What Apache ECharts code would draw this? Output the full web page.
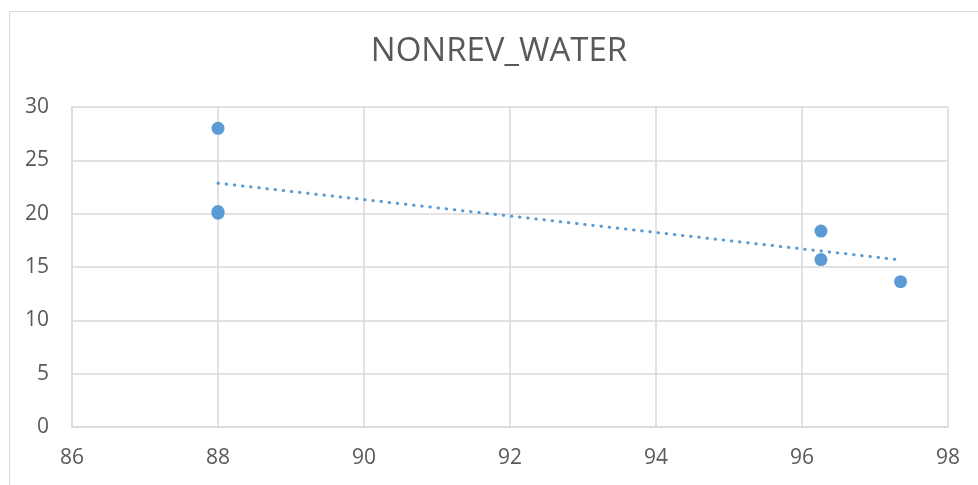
<!DOCTYPE html>
<html>
<head>
<meta charset="utf-8">
<script src="https://cdn.jsdelivr.net/npm/echarts@6/dist/echarts.min.js"></script>
<style>html,body{margin:0;padding:0;background:#fff;}#c{width:978px;height:485px;}</style>
</head>
<body>
<div id="c"></div>
<script>
var titleText = 'NONREV_WATER';
var xValues = [88, 88, 88, 96.26, 96.26, 97.35];
var yValues = [28.0, 20.2, 20.05, 18.37, 15.7, 13.62];
var trendX = [88, 97.35];
var trendY = [22.86, 15.66];
var xTicks = [86, 98, 2];
var yTicks = [0, 30, 5];

var pts = xValues.map(function (x, i) { return [x, yValues[i]]; });
var trend = trendX.map(function (x, i) { return [x, trendY[i]]; });
var font = '"Open Sans", "Noto Sans", sans-serif';

var chart = echarts.init(document.getElementById('c'), null, {renderer: 'canvas'});
chart.setOption({
  animation: false,
  backgroundColor: '#ffffff',
  graphic: [{
    type: 'rect', left: 7, top: 9, silent: true,
    shape: {width: 1100, height: 600},
    style: {fill: 'none', stroke: '#d9d9d9', lineWidth: 1}
  }, {
    type: 'text', x: 499, y: 52, silent: true,
    style: {
      text: titleText, fontFamily: font, fontSize: 33, fill: '#595959',
      align: 'center', verticalAlign: 'middle'
    }
  }],
  grid: {left: 72, right: 30, top: 107, bottom: 58, containLabel: false},
  xAxis: {
    type: 'value', min: xTicks[0], max: xTicks[1], interval: xTicks[2],
    axisLine: {show: true, lineStyle: {color: '#d9d9d9', width: 1.5}},
    axisTick: {show: false},
    splitLine: {show: true, lineStyle: {color: '#d9d9d9', width: 1.5}},
    axisLabel: {fontFamily: font, fontSize: 21, color: '#595959', margin: 21}
  },
  yAxis: {
    type: 'value', min: yTicks[0], max: yTicks[1], interval: yTicks[2],
    axisLine: {show: true, lineStyle: {color: '#d9d9d9', width: 1.5}},
    axisTick: {show: false},
    splitLine: {show: true, lineStyle: {color: '#d9d9d9', width: 1.5}},
    axisLabel: {fontFamily: font, fontSize: 21, color: '#595959', margin: 23}
  },
  series: [{
    type: 'line', data: trend, symbol: 'none', silent: true,
    lineStyle: {color: '#5b9bd5', width: 3, type: [0.5, 7.7], cap: 'round'},
    z: 2
  }, {
    type: 'scatter', data: pts, symbol: 'circle', symbolSize: 13,
    itemStyle: {color: '#5b9bd5', opacity: 1}, z: 3
  }]
});
</script>
</body>
</html>
